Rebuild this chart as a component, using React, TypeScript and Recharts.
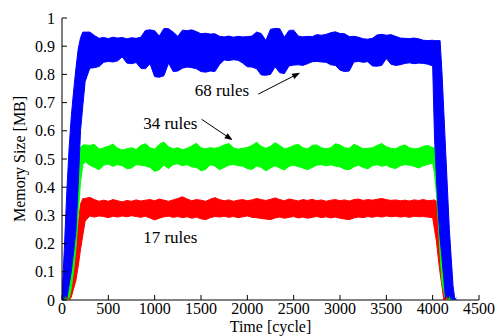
import React from "react";
import {
  ComposedChart,
  Area,
  Scatter,
  XAxis,
  YAxis,
  ReferenceLine,
  ReferenceDot,
} from "recharts";

// time samples [cycle]: ramp-up, plateau, ramp-down
const times = [
  0, 25, 50, 75, 100, 125, 150, 175, 200, 225, 250,
  300, 350, 400, 450,
  500, 550, 600, 650, 700, 750, 800, 850, 900, 950,
  1000, 1050, 1100, 1150, 1200, 1250, 1300, 1350, 1400, 1450,
  1500, 1550, 1600, 1650, 1700, 1750, 1800, 1850, 1900, 1950,
  2000, 2050, 2100, 2150, 2200, 2250, 2300, 2350, 2400, 2450,
  2500, 2550, 2600, 2650, 2700, 2750, 2800, 2850, 2900, 2950,
  3000, 3050, 3100, 3150, 3200, 3250, 3300, 3350, 3400, 3450,
  3500, 3550, 3600, 3650, 3700, 3750, 3800, 3850, 3900, 3950,
  4000,
  4020, 4040, 4060, 4080, 4100, 4120, 4140, 4160, 4180, 4200, 4220, 4240,
];

// 68 rules (blue) - lower / upper envelope [MB]
const blueLo = [
  0, 0, 0, 0.05, 0.1, 0.17, 0.245, 0.41, 0.6, 0.69, 0.775,
  0.822, 0.824, 0.828, 0.843,
  0.846, 0.844, 0.848, 0.862, 0.84, 0.838, 0.842, 0.822, 0.82, 0.838,
  0.792, 0.79, 0.795, 0.84, 0.81, 0.812, 0.822, 0.826, 0.824, 0.82,
  0.81, 0.808, 0.812, 0.81, 0.835, 0.851, 0.849, 0.852, 0.85, 0.84,
  0.827, 0.826, 0.82, 0.798, 0.797, 0.8, 0.827, 0.806, 0.803, 0.83,
  0.833, 0.834, 0.832, 0.838, 0.845, 0.846, 0.844, 0.843, 0.834, 0.832,
  0.815, 0.81, 0.812, 0.844, 0.846, 0.843, 0.845, 0.83, 0.829, 0.832,
  0.856, 0.836, 0.832, 0.834, 0.839, 0.841, 0.838, 0.84, 0.839, 0.836,
  0.83,
  0.575, 0.44, 0.31, 0.22, 0.15, 0.075, 0, 0, 0, 0, 0, 0,
];
const blueHi = [
  0.01, 0.18, 0.37, 0.53, 0.65, 0.74, 0.82, 0.89, 0.93, 0.95, 0.95,
  0.95, 0.938, 0.928, 0.931,
  0.927, 0.932, 0.929, 0.931, 0.926, 0.93, 0.928, 0.932, 0.956, 0.958,
  0.955, 0.936, 0.963, 0.962, 0.95, 0.935, 0.957, 0.955, 0.958, 0.952,
  0.944, 0.946, 0.943, 0.944, 0.935, 0.933, 0.936, 0.932, 0.935, 0.933,
  0.934, 0.936, 0.95, 0.945, 0.92, 0.96, 0.963, 0.962, 0.932, 0.956,
  0.957, 0.936, 0.933, 0.935, 0.934, 0.941, 0.939, 0.942, 0.948, 0.951,
  0.945, 0.944, 0.934, 0.935, 0.932, 0.926, 0.925, 0.928, 0.94, 0.942,
  0.939, 0.941, 0.935, 0.929, 0.928, 0.927, 0.929, 0.926, 0.921, 0.92,
  0.921,
  0.92, 0.92, 0.92, 0.92, 0.81, 0.67, 0.53, 0.39, 0.25, 0.15, 0.05, 0,
];

// 34 rules (green)
const greenLo = [
  0, 0, 0, 0, 0.04, 0.1, 0.18, 0.3, 0.42, 0.48, 0.49,
  0.478, 0.47, 0.462, 0.478,
  0.482, 0.474, 0.48, 0.476, 0.465, 0.468, 0.48, 0.478, 0.475, 0.47,
  0.456, 0.462, 0.478, 0.466, 0.48, 0.483, 0.476, 0.48, 0.472, 0.47,
  0.458, 0.463, 0.48, 0.475, 0.462, 0.47, 0.478, 0.48, 0.477, 0.474,
  0.466, 0.463, 0.475, 0.47, 0.458, 0.468, 0.476, 0.468, 0.461, 0.474,
  0.478, 0.473, 0.468, 0.462, 0.47, 0.478, 0.48, 0.476, 0.479, 0.475,
  0.472, 0.464, 0.462, 0.472, 0.478, 0.47, 0.465, 0.476, 0.48, 0.474,
  0.478, 0.47, 0.466, 0.476, 0.48, 0.478, 0.474, 0.468, 0.476, 0.481,
  0.485,
  0.45, 0.38, 0.28, 0.16, 0.065, 0.03, 0, 0, 0, 0, 0, 0,
];
const greenHi = [
  0, 0, 0.03, 0.08, 0.15, 0.25, 0.35, 0.44, 0.54, 0.55, 0.55,
  0.548, 0.552, 0.535, 0.54,
  0.545, 0.553, 0.538, 0.532, 0.536, 0.54, 0.534, 0.548, 0.554, 0.54,
  0.535, 0.552, 0.56, 0.543, 0.536, 0.54, 0.533, 0.538, 0.546, 0.556,
  0.54, 0.536, 0.54, 0.538, 0.542, 0.55, 0.555, 0.54, 0.535, 0.538,
  0.541, 0.548, 0.559, 0.545, 0.538, 0.545, 0.558, 0.548, 0.536, 0.54,
  0.548, 0.552, 0.54, 0.536, 0.548, 0.55, 0.54, 0.536, 0.54, 0.554,
  0.55, 0.54, 0.538, 0.552, 0.545, 0.536, 0.538, 0.54, 0.548, 0.555,
  0.543, 0.538, 0.536, 0.545, 0.55, 0.54, 0.536, 0.538, 0.545, 0.548,
  0.54,
  0.54, 0.535, 0.52, 0.43, 0.35, 0.26, 0.17, 0.09, 0, 0, 0, 0,
];

// 17 rules (red)
const redLo = [
  0, 0, 0, 0, 0.01, 0.04, 0.07, 0.12, 0.18, 0.23, 0.28,
  0.298, 0.294, 0.298, 0.296,
  0.292, 0.297, 0.294, 0.298, 0.295, 0.299, 0.296, 0.293, 0.297, 0.291,
  0.284, 0.29, 0.295, 0.297, 0.293, 0.296, 0.292, 0.295, 0.29, 0.294,
  0.288, 0.285, 0.292, 0.296, 0.294, 0.297, 0.293, 0.296, 0.292, 0.295,
  0.298, 0.293, 0.292, 0.289, 0.287, 0.285, 0.291, 0.294, 0.29, 0.293,
  0.296, 0.291, 0.294, 0.29, 0.293, 0.296, 0.292, 0.295, 0.291, 0.294,
  0.29, 0.287, 0.285, 0.291, 0.294, 0.292, 0.296, 0.293, 0.297, 0.294,
  0.298, 0.295, 0.297, 0.294, 0.296, 0.293, 0.297, 0.295, 0.296, 0.294,
  0.292,
  0.25, 0.21, 0.15, 0.095, 0.05, 0, 0, 0, 0, 0, 0, 0,
];
const redHi = [
  0, 0, 0, 0.04, 0.08, 0.14, 0.2, 0.27, 0.34, 0.36, 0.36,
  0.364, 0.356, 0.35, 0.354,
  0.35, 0.356, 0.352, 0.348, 0.353, 0.35, 0.355, 0.351, 0.354, 0.356,
  0.352, 0.358, 0.354, 0.35, 0.355, 0.36, 0.366, 0.358, 0.352, 0.356,
  0.354, 0.35, 0.357, 0.363, 0.356, 0.352, 0.355, 0.35, 0.354, 0.356,
  0.352, 0.355, 0.36, 0.356, 0.353, 0.357, 0.362, 0.356, 0.352, 0.358,
  0.355, 0.351, 0.356, 0.353, 0.357, 0.352, 0.355, 0.35, 0.354, 0.356,
  0.352, 0.355, 0.351, 0.356, 0.358, 0.353, 0.356, 0.354, 0.357, 0.36,
  0.356, 0.353, 0.355, 0.352, 0.354, 0.351, 0.355, 0.353, 0.356, 0.352,
  0.354,
  0.355, 0.35, 0.33, 0.26, 0.2, 0.13, 0.065, 0, 0, 0, 0, 0,
];

// start / end markers
const blueStars = [{ t: 0, v: 0 }, { t: 4230, v: 0 }];
const greenStars = [{ t: 40, v: 0 }, { t: 4180, v: 0 }];
const redStars = [{ t: 60, v: 0 }, { t: 4150, v: 0 }];

const xTicks = [0, 500, 1000, 1500, 2000, 2500, 3000, 3500, 4000, 4500];
const yTicks = [0, 0.1, 0.2, 0.3, 0.4, 0.5, 0.6, 0.7, 0.8, 0.9, 1];

const notes = [
  { text: "68 rules", t: 1726, v: 0.745, from: [2118, 0.73], to: [2569, 0.806] },
  { text: "34 rules", t: 1169, v: 0.628, from: [1506, 0.641], to: [1841, 0.567] },
  { text: "17 rules", t: 1169, v: 0.223, from: null, to: null },
];

const txt: React.CSSProperties = {
  fontFamily: "'Liberation Serif', 'DejaVu Serif', serif",
  fontSize: 16,
  fill: "#000",
};

const table = times.map((t, i) => ({
  t,
  blue: [blueLo[i], blueHi[i]],
  green: [greenLo[i], greenHi[i]],
  red: [redLo[i], redHi[i]],
}));

const BottomTick = (props: any) => {
  const { x, y, payload } = props;
  return (
    <g>
      <line x1={x} y1={y} x2={x} y2={y - 5} stroke="#000" />
      <text x={x} y={y + 14} textAnchor="middle" style={txt}>
        {payload.value}
      </text>
    </g>
  );
};

const LeftTick = (props: any) => {
  const { x, y, payload } = props;
  return (
    <g>
      <line x1={x} y1={y} x2={x + 5} y2={y} stroke="#000" />
      <text x={x - 7} y={y + 5.5} textAnchor="end" style={txt}>
        {payload.value}
      </text>
    </g>
  );
};

const TopTick = (props: any) => {
  const { x, y } = props;
  return <line x1={x} y1={y} x2={x} y2={y + 5} stroke="#000" />;
};

const RightTick = (props: any) => {
  const { x, y } = props;
  return <line x1={x} y1={y} x2={x - 5} y2={y} stroke="#000" />;
};

const asterisk = (color: string) => (props: any) => {
  const { cx, cy } = props;
  const s = 3.5;
  const d = 2.5;
  return (
    <g stroke={color} strokeWidth={1}>
      <line x1={cx - s} y1={cy} x2={cx + s} y2={cy} />
      <line x1={cx} y1={cy - s} x2={cx} y2={cy + s} />
      <line x1={cx - d} y1={cy - d} x2={cx + d} y2={cy + d} />
      <line x1={cx - d} y1={cy + d} x2={cx + d} y2={cy - d} />
    </g>
  );
};

const arrowShape = (props: any) => {
  const { x1, y1, x2, y2 } = props;
  const a = Math.atan2(y2 - y1, x2 - x1);
  const len = 8;
  const w = 3;
  const bx = x2 - len * Math.cos(a);
  const by = y2 - len * Math.sin(a);
  const px = -Math.sin(a) * w;
  const py = Math.cos(a) * w;
  return (
    <g>
      <line x1={x1} y1={y1} x2={bx} y2={by} stroke="#000" strokeWidth={1} />
      <polygon points={`${x2},${y2} ${bx + px},${by + py} ${bx - px},${by - py}`} fill="#000" />
    </g>
  );
};

const noteText = (text: string) => (props: any) => (
  <text x={props.cx} y={props.cy + 6} textAnchor="middle" style={{ ...txt, fontSize: 17 }}>
    {text}
  </text>
);

const xLabel = (props: any) => {
  const vb = props.viewBox || { x: 62, y: 300, width: 417, height: 36 };
  return (
    <text x={vb.x + vb.width / 2} y={vb.y + 31.5} textAnchor="middle" style={txt}>
      Time [cycle]
    </text>
  );
};

const yLabel = (props: any) => {
  const vb = props.viewBox || { x: 0, y: 18, width: 62, height: 282 };
  const cx = vb.x + 25;
  const cy = vb.y + vb.height / 2;
  return (
    <text x={cx} y={cy} transform={`rotate(-90 ${cx} ${cy})`} textAnchor="middle" style={txt}>
      Memory Size [MB]
    </text>
  );
};

export default function App() {
  return (
    <div style={{ position: "absolute", left: 0, top: 0 }}>
      <ComposedChart
        width={499}
        height={336}
        data={table}
        margin={{ top: 18, right: 20, bottom: 0, left: 0 }}
      >
        <XAxis
          dataKey="t"
          type="number"
          domain={[0, 4500]}
          ticks={xTicks}
          height={36}
          tickSize={0}
          tickMargin={0}
          tickLine={false}
          axisLine={{ stroke: "#000" }}
          tick={BottomTick}
          interval={0}
          allowDataOverflow
          label={xLabel}
        />
        <XAxis
          xAxisId="top"
          orientation="top"
          dataKey="t"
          type="number"
          domain={[0, 4500]}
          ticks={xTicks}
          height={0}
          tickSize={0}
          tickMargin={0}
          tickLine={false}
          axisLine={{ stroke: "#000" }}
          tick={TopTick}
          interval={0}
        />
        <YAxis
          type="number"
          domain={[0, 1]}
          ticks={yTicks}
          width={62}
          tickSize={0}
          tickMargin={0}
          tickLine={false}
          axisLine={{ stroke: "#000" }}
          tick={LeftTick}
          interval={0}
          allowDataOverflow
          label={yLabel}
        />
        <YAxis
          yAxisId="right"
          orientation="right"
          type="number"
          domain={[0, 1]}
          ticks={yTicks}
          width={0}
          tickSize={0}
          tickMargin={0}
          tickLine={false}
          axisLine={{ stroke: "#000" }}
          tick={RightTick}
          interval={0}
        />
        <Area
          type="linear"
          dataKey="red"
          fill="#ff0000"
          fillOpacity={1}
          stroke="#ff0000"
          strokeWidth={1}
          dot={false}
          activeDot={false}
          isAnimationActive={false}
        />
        <Area
          type="linear"
          dataKey="green"
          fill="#00ff00"
          fillOpacity={1}
          stroke="#00ff00"
          strokeWidth={1}
          dot={false}
          activeDot={false}
          isAnimationActive={false}
        />
        <Area
          type="linear"
          dataKey="blue"
          fill="#0000ff"
          fillOpacity={1}
          stroke="#0000ff"
          strokeWidth={1}
          dot={false}
          activeDot={false}
          isAnimationActive={false}
        />
        <Scatter data={redStars} dataKey="v" shape={asterisk("#ff0000")} isAnimationActive={false} />
        <Scatter data={greenStars} dataKey="v" shape={asterisk("#00cc00")} isAnimationActive={false} />
        <Scatter data={blueStars} dataKey="v" shape={asterisk("#0000ff")} isAnimationActive={false} />
        {notes.map((n) =>
          n.from && n.to ? (
            <ReferenceLine
              key={`arrow-${n.text}`}
              segment={[
                { x: n.from[0], y: n.from[1] },
                { x: n.to[0], y: n.to[1] },
              ]}
              shape={arrowShape}
            />
          ) : null
        )}
        {notes.map((n) => (
          <ReferenceDot
            key={`note-${n.text}`}
            x={n.t}
            y={n.v}
            r={0}
            shape={noteText(n.text)}
          />
        ))}
      </ComposedChart>
    </div>
  );
}
